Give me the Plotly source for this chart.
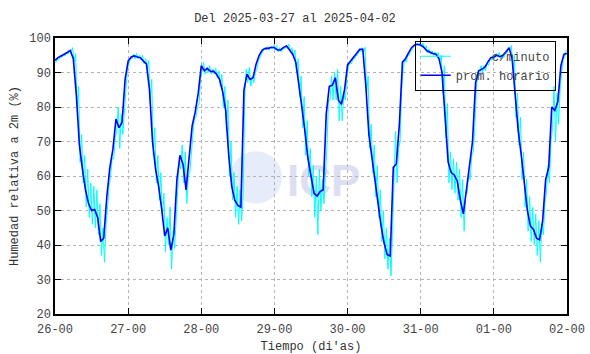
import pandas as pd
import plotly.graph_objects as go

title = "Del 2025-03-27 al 2025-04-02"
start = "2025-03-26 00:00"

# hourly average (prom. horario), hours 0..168
prom_horario = [
    93.5, 94.3, 94.8, 95.2, 95.8, 96.4, 94.0, 83.5, 69.0, 62.0, 56.0, 52.0,
    50.0, 50.3, 48.0, 41.0, 42.0, 54.0, 62.5, 67.7, 76.5, 74.0, 75.5, 88.0,
    93.3, 94.5, 94.8, 94.5, 94.3, 93.3, 92.5, 85.0, 70.0, 62.0, 57.0, 50.5,
    42.6, 45.0, 38.5, 43.0, 59.0, 66.0, 63.4, 56.0, 65.0, 74.5, 78.5, 84.0,
    92.0, 90.5, 91.2, 90.3, 90.4, 89.5, 88.0, 84.5, 79.0, 66.0, 57.0, 53.0,
    51.5, 51.0, 85.0, 89.5, 88.0, 88.5, 92.5, 95.0, 96.5, 97.0, 97.0, 97.3,
    97.2, 96.5, 96.5, 97.3, 97.7, 96.5, 95.3, 93.0, 87.0, 80.0, 73.0, 65.0,
    60.0, 55.0, 54.2, 55.5, 56.0, 78.0, 86.0, 86.3, 88.5, 82.0, 80.8, 85.0,
    92.2, 93.3, 94.5, 95.6, 96.7, 96.7, 86.0, 72.0, 65.0, 59.0, 51.5, 45.5,
    40.5, 37.2, 36.8, 62.5, 63.5, 75.0, 93.0, 94.0, 95.7, 97.2, 98.0, 98.2,
    98.0, 97.3, 96.3, 95.8, 95.5, 95.3, 94.0, 90.0, 76.0, 64.0, 61.0, 60.3,
    58.5, 53.0, 49.0, 56.0, 62.5, 70.0, 87.0, 90.5, 90.9, 91.5, 93.0, 94.3,
    94.5, 95.0, 94.6, 95.0, 96.0, 97.2, 94.0, 84.0, 73.0, 66.0, 58.0, 50.0,
    45.5, 44.5, 42.0, 41.5, 47.0, 59.0, 62.5, 80.0, 79.0, 81.5, 92.0, 95.3,
    95.5,
]

# per-minute series, read as low / high extent within each hour (hours 0..167)
minuto_bajo = [
    92.8, 93.7, 94.3, 94.8, 95.3, 95.8, 93.0, 80.0, 64.0, 58.0, 51.0, 48.0,
    46.0, 45.0, 43.0, 37.0, 35.0, 51.0, 60.0, 65.0, 73.0, 68.0, 72.0, 86.0,
    92.5, 94.0, 94.0, 94.0, 93.8, 92.5, 91.0, 82.0, 66.0, 58.0, 53.0, 47.0,
    38.0, 40.0, 33.0, 39.0, 55.0, 62.0, 58.0, 52.0, 61.0, 72.0, 77.0, 81.0,
    91.0, 89.5, 90.0, 89.5, 89.5, 88.5, 86.0, 80.0, 73.0, 60.0, 53.0, 48.0,
    46.0, 47.0, 82.0, 87.0, 86.0, 87.0, 91.0, 94.5, 96.0, 96.5, 96.5, 96.8,
    96.5, 96.0, 96.0, 96.8, 97.0, 96.0, 94.5, 90.0, 83.0, 74.0, 66.0, 60.0,
    54.0, 48.0, 43.0, 50.0, 52.0, 69.0, 82.0, 82.0, 82.0, 76.0, 76.0, 82.0,
    91.5, 92.5, 94.0, 95.0, 96.0, 96.0, 84.0, 68.0, 61.0, 54.0, 48.0, 41.0,
    36.0, 33.0, 31.0, 56.0, 58.0, 70.0, 91.0, 93.0, 95.0, 96.5, 97.5, 97.8,
    97.5, 96.8, 95.8, 95.3, 95.0, 94.8, 93.0, 84.0, 71.0, 58.0, 56.0, 55.0,
    53.0, 48.0, 44.0, 55.0, 59.0, 67.0, 85.0, 89.0, 90.0, 90.5, 92.0, 93.5,
    94.0, 94.5, 94.0, 94.3, 95.5, 96.5, 91.0, 77.0, 69.0, 59.0, 51.0, 44.0,
    41.0, 40.0, 37.0, 35.0, 43.0, 55.0, 58.0, 74.0, 70.0, 75.0, 90.0, 94.5,
]
minuto_alto = [
    94.0, 95.0, 95.3, 95.6, 96.3, 97.2, 95.5, 86.0, 72.0, 66.0, 62.0, 58.0,
    57.0, 56.0, 52.0, 45.0, 46.0, 57.0, 65.0, 71.0, 80.0, 78.0, 78.0, 91.0,
    94.0, 95.3, 95.5, 95.0, 95.0, 94.0, 93.5, 88.0, 74.0, 66.0, 61.0, 55.0,
    48.0, 51.0, 44.0, 48.0, 64.0, 69.0, 67.0, 60.0, 68.0, 77.0, 80.0, 88.0,
    93.0, 91.5, 92.0, 91.0, 91.2, 90.5, 89.5, 86.0, 82.0, 70.0, 61.0, 57.0,
    56.0, 55.0, 91.0, 91.5, 89.0, 90.0, 93.5, 95.5, 97.0, 97.5, 97.5, 97.8,
    97.8, 97.2, 97.2, 97.8, 98.2, 97.2, 96.5, 94.0, 89.0, 83.0, 76.0, 68.0,
    63.0, 60.0, 62.0, 59.0, 59.0, 82.0, 89.0, 90.0, 91.0, 86.0, 84.0, 88.0,
    93.0, 94.0, 95.0, 96.2, 97.2, 97.3, 89.0, 75.0, 69.0, 63.0, 56.0, 50.0,
    45.0, 42.0, 44.0, 73.0, 68.0, 85.0, 94.0, 95.0, 96.5, 97.8, 98.5, 98.6,
    98.5, 97.8, 96.8, 96.3, 96.0, 95.8, 95.0, 92.0, 81.0, 67.0, 65.0, 64.0,
    62.0, 59.0, 55.0, 61.0, 66.0, 74.0, 90.0, 92.0, 92.0, 92.5, 94.0, 95.0,
    95.5, 95.8, 95.3, 95.5, 96.8, 97.8, 95.0, 84.0, 77.0, 67.0, 59.0, 54.0,
    51.0, 49.0, 47.0, 46.0, 52.0, 63.0, 70.0, 86.0, 84.0, 85.0, 94.0, 96.5,
]

t0 = pd.Timestamp(start)
x_hour = [t0 + pd.Timedelta(hours=i) for i in range(len(prom_horario))]

x_min, y_min = [], []
for i, (lo, hi) in enumerate(zip(minuto_bajo, minuto_alto)):
    x_min.append(t0 + pd.Timedelta(minutes=60 * i + 15))
    y_min.append(lo)
    x_min.append(t0 + pd.Timedelta(minutes=60 * i + 45))
    y_min.append(hi)

FONT = "Liberation Mono"
GRAY = "#444444"
NB = "\u00a0"

fig = go.Figure()
fig.add_trace(go.Scatter(x=x_min, y=y_min, mode="lines", name=NB * 5 + "c/minuto",
                         line=dict(color="#00ffff", width=1)))
fig.add_trace(go.Scatter(x=x_hour, y=prom_horario, mode="lines",
                         name="prom. horario",
                         line=dict(color="#0000ff", width=1.6)))

# faint watermark logo
fig.add_shape(type="circle", xref="paper", yref="paper",
              x0=0.342, x1=0.443, y0=0.40, y1=0.59,
              fillcolor="#e6ecf9", line=dict(width=0), layer="below")
fig.add_shape(type="rect", xref="paper", yref="paper",
              x0=0.45, x1=0.60, y0=0.43, y1=0.57, line=dict(width=0),
              fillcolor="rgba(0,0,0,0)", layer="below",
              label=dict(text="<b>ICP</b>", font=dict(family="Liberation Sans", size=44, color="#dedef3")))

fig.update_layout(
    width=590, height=354,
    margin=dict(l=55, r=23, t=38, b=40, autoexpand=False),
    paper_bgcolor="white", plot_bgcolor="white",
    font=dict(family=FONT, size=12, color=GRAY),
    title=dict(text=title, x=0.5, xanchor="center", y=0.95, yanchor="middle",
               font=dict(family=FONT, size=12, color="#333333")),
    showlegend=True,
    legend=dict(x=0.978, y=0.99, xanchor="right", yanchor="top",
                bgcolor="rgba(0,0,0,0)", bordercolor="black", borderwidth=1,
                font=dict(family=FONT, size=12, color=GRAY),
                tracegroupgap=0, itemwidth=30),
)
fig.update_xaxes(
    type="date", range=[t0, t0 + pd.Timedelta(days=7)],
    dtick=86400000, tickformat="%d-%H", tick0=t0,
    ticks="inside", ticklen=6, tickcolor="black", tickwidth=1,
    ticklabelstandoff=3,
    showline=True, linecolor="black", linewidth=1.5, mirror="ticks",
    showgrid=True, gridcolor="#b4b4b4", griddash="dot", gridwidth=1,
    zeroline=False, automargin=False,
    title=dict(text="Tiempo (di'as)", standoff=6, font=dict(family=FONT, size=12, color="#333333")),
)
fig.update_yaxes(
    range=[20, 100], dtick=10,
    ticks="inside", ticklen=6, tickcolor="black", tickwidth=1,
    showline=True, linecolor="black", linewidth=1.5, mirror="ticks",
    showgrid=True, gridcolor="#b4b4b4", griddash="dot", gridwidth=1,
    zeroline=False, automargin=False,
    title=dict(text="Humedad relativa a 2m (%)", standoff=8, font=dict(family=FONT, size=12, color="#333333")),
)

fig.write_html("out.html")
